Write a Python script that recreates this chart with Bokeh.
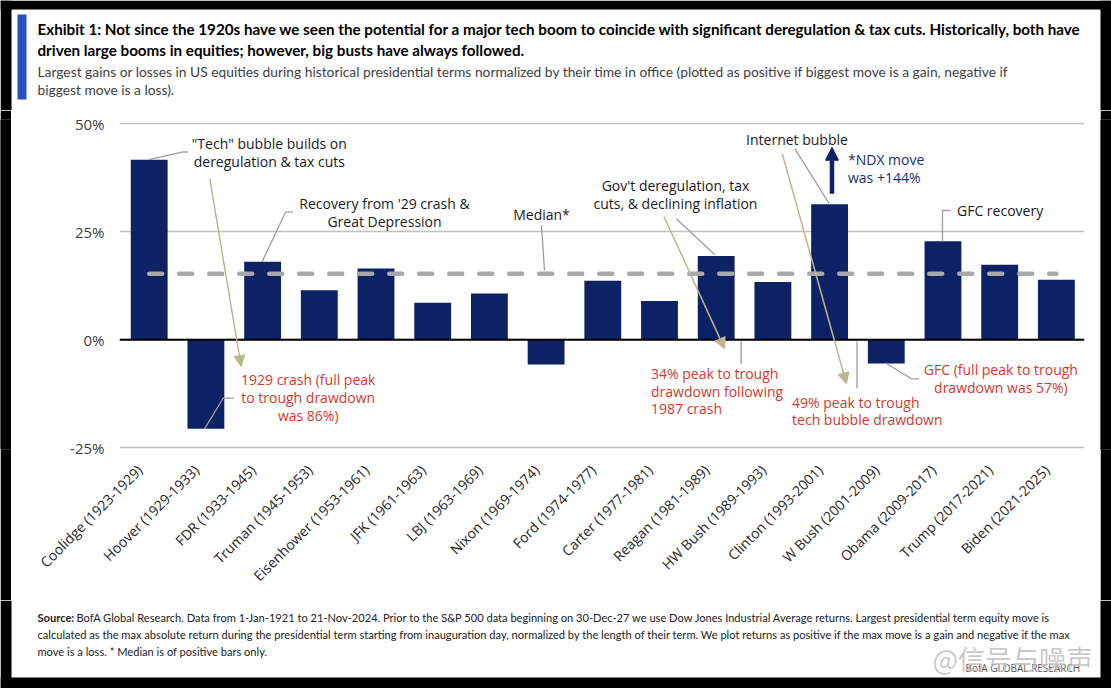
import numpy as np
from bokeh.plotting import figure
from bokeh.layouts import column, row
from bokeh.models import (ColumnDataSource, Range1d, FixedTicker, PrintfTickFormatter,
                          Span, Label, Arrow, NormalHead)
from bokeh.core.properties import value
from bokeh.embed import file_html
from bokeh.resources import INLINE

# ---------------- data ----------------
presidents = ["Coolidge (1923-1929)", "Hoover (1929-1933)", "FDR (1933-1945)", "Truman (1945-1953)",
              "Eisenhower (1953-1961)", "JFK (1961-1963)", "LBJ (1963-1969)", "Nixon (1969-1974)",
              "Ford (1974-1977)", "Carter (1977-1981)", "Reagan (1981-1989)", "HW Bush (1989-1993)",
              "Clinton (1993-2001)", "W Bush (2001-2009)", "Obama (2009-2017)", "Trump (2017-2021)",
              "Biden (2021-2025)"]
moves = [41.7, -20.6, 18.1, 11.5, 16.5, 8.6, 10.7, -5.7, 13.7, 9.0, 19.4, 13.4, 31.4, -5.5, 22.8, 17.4, 13.9]
median_positive = 15.3
y_ticks = [-25, 0, 25, 50]

NAVY = "#0c2264"
GRAY = "#9e9e9e"
TAN = "#bdb78f"
RED = "#d13a2f"
TXT = "#1a1a1a"
FONT = "Open Sans"
NARROW = "Lato"

PAGE_W, PAGE_H = 1111, 688
TOP_H, MID_H = 110, 490
BOT_H = PAGE_H - TOP_H - MID_H
EDGE = 11


def plain_fig(w, h, x0, x1, y0, y1, bg="white"):
    f = figure(width=w, height=h, output_backend="svg", toolbar_location=None,
               x_range=Range1d(x0, x1), y_range=Range1d(y0, y1),
               x_axis_location=None, y_axis_location=None,
               min_border=0, min_border_left=0, min_border_right=0,
               min_border_top=0, min_border_bottom=0)
    f.grid.visible = False
    f.outline_line_color = None
    f.background_fill_color = bg
    f.border_fill_color = bg
    return f


# ---------------- top (title) panel, page pixel coordinates ----------------
top = plain_fig(PAGE_W, TOP_H, 0, PAGE_W, TOP_H, 0)
top.quad(left=[0, PAGE_W - EDGE, 0], right=[EDGE, PAGE_W, PAGE_W], top=[0, 0, 0],
         bottom=[TOP_H, TOP_H, 9], fill_color="black", line_color=None)
top.quad(left=[17], right=[26], top=[14], bottom=[99], fill_color="#2452c2", line_color=None)
top.text(x=[37, 37], y=[28.3, 49.5],
         text=["Exhibit 1: Not since the 1920s have we seen the potential for a major tech boom to coincide with significant deregulation & tax cuts.  Historically, both have",
               "driven large booms in equities; however, big busts have always followed."],
         text_align="left", text_baseline="middle", text_color="#000000",
         text_font=value("Lato"), text_font_style="bold", text_font_size="15.2px")
top.text(x=[37, 37], y=[71, 88.5],
         text=["Largest gains or losses in US equities during historical presidential terms normalized by their time in office (plotted as positive if biggest move is a gain, negative if",
               "biggest move is a loss)."],
         text_align="left", text_baseline="middle", text_color="#404040",
         text_font=value(NARROW), text_font_size="13.8px")

# ---------------- chart panel ----------------
CH_W = PAGE_W - 2 * EDGE
p = figure(width=CH_W, height=MID_H, output_backend="svg", toolbar_location=None,
           x_range=Range1d(-0.524, 16.496), y_range=Range1d(-25.39, 51.0),
           min_border_left=108, min_border_right=16, min_border_top=9, min_border_bottom=151)
p.outline_line_color = None
p.background_fill_color = "white"
p.border_fill_color = "white"

# page-pixel -> data helpers for annotation placement
def X(px):
    return (px - 148.7) / 56.7

def Y(py):
    return (339.3 - py) / 4.32

xs_pos = list(range(len(presidents)))
label_pos = [i - 0.17 for i in xs_pos]
p.xaxis.ticker = FixedTicker(ticks=label_pos)
p.xaxis.major_label_overrides = {lp: n for lp, n in zip(label_pos, presidents)}
p.xaxis.major_label_orientation = np.pi / 4
p.xaxis.major_label_text_font = FONT
p.xaxis.major_label_text_font_size = "14px"
p.xaxis.major_label_text_color = "#262626"
p.xaxis.major_label_standoff = 18
for ax in (p.xaxis, p.yaxis):
    ax.axis_line_color = None
    ax.major_tick_line_color = None
    ax.minor_tick_line_color = None
    ax.major_tick_out = 0
    ax.major_tick_in = 0
p.yaxis.ticker = FixedTicker(ticks=y_ticks)
p.yaxis.formatter = PrintfTickFormatter(format="%d%%")
p.yaxis.major_label_text_font = FONT
p.yaxis.major_label_text_font_size = "15px"
p.yaxis.major_label_text_color = "#404040"
p.yaxis.major_label_standoff = 15

p.xgrid.visible = False
p.ygrid.ticker = FixedTicker(ticks=y_ticks)
p.ygrid.grid_line_color = "#c0c0c0"
p.ygrid.grid_line_width = 1.5

src = ColumnDataSource(dict(x=xs_pos, v=moves))
p.vbar(x="x", top="v", bottom=0, width=0.65, source=src, fill_color=NAVY, line_color=None)

p.line(x=[xs_pos[0], xs_pos[-1]], y=[median_positive, median_positive], line_color="#a8a8a8",
       line_width=4.5, line_dash="13 17", line_cap="round")

p.add_layout(Span(location=0, dimension="width", line_color="black", line_width=2))


def txt(lines, x, y0, dy, color, size="14px", align="center", font=FONT, style="normal"):
    for i, s in enumerate(lines):
        p.add_layout(Label(x=X(x), y=Y(y0 + i * dy), text=s, text_align=align,
                           text_baseline="middle", text_color=color, text_font_size=size,
                           text_font=font, text_font_style=style))


leaders = [
    [(148.3, 159), (181.7, 151.5), (187.3, 151.5)],
    [(204, 428.3), (222.7, 397.7), (233.3, 397.7)],
    [(261.7, 261), (285, 211.7), (292.7, 211.7)],
    [(541, 225), (544, 270)],
    [(675.8, 218.3), (714.4, 254.3)],
    [(740.7, 341), (740.7, 363.3)],
    [(794.4, 148.3), (828.4, 202.7)],
    [(856.5, 341), (856.5, 388)],
    [(942, 240.7), (942, 210), (950.2, 210)],
    [(886.3, 363.3), (910.9, 378.3), (918.6, 378.3)],
]
p.multi_line(xs=[[X(a) for a, b in L] for L in leaders], ys=[[Y(b) for a, b in L] for L in leaders],
             line_color=GRAY, line_width=1.3)

for (x0, y0, x1, y1) in [(209.3, 178.3, 240.7, 366), (663.5, 216, 724.2, 348.3), (781.8, 153.3, 846, 383.3)]:
    p.add_layout(Arrow(end=NormalHead(size=11, fill_color=TAN, line_color=TAN),
                       x_start=X(x0), y_start=Y(y0), x_end=X(x1), y_end=Y(y1),
                       line_color=TAN, line_width=1.5))

p.add_layout(Arrow(end=NormalHead(size=13, fill_color=NAVY, line_color=NAVY),
                   x_start=X(831.5), y_start=Y(193.3), x_end=X(831.5), y_end=Y(146.7),
                   line_color=NAVY, line_width=4.5))

txt(['"Tech" bubble builds on', "deregulation & tax cuts"], 268.8, 142.7, 18.3, TXT)
txt(["Recovery from '29 crash &", "Great Depression"], 384, 203.3, 17.7, TXT)
txt(["Median*"], 541, 214, 0, TXT)
txt(["Gov't deregulation, tax", "cuts, & declining inflation"], 675, 185, 17.7, TXT)
txt(["Internet bubble"], 796.5, 139, 0, TXT)
txt(["GFC recovery"], 956.5, 210, 0, TXT, align="left")
txt(["*NDX move", "was +144%"], 847.5, 159, 17.7, "#1c2e6e", align="left")
txt(["1929 crash (full peak", "to trough drawdown", "was 86%)"], 307.7, 379.3, 17.9, RED)
txt(["34% peak to trough", "drawdown following", "1987 crash"], 650.5, 373.3, 17.5, RED, align="left")
txt(["49% peak to trough", "tech bubble drawdown"], 791.6, 401.7, 17.6, RED, align="left")
txt(["GFC (full peak to trough", "drawdown was 57%)"], 1000.4, 369, 17.7, RED)

left_edge = plain_fig(EDGE, MID_H, 0, 1, 0, 1, bg="black")
left_edge.quad(left=[0], right=[1], bottom=[0], top=[1], fill_color="black", line_color=None)
right_edge = plain_fig(EDGE, MID_H, 0, 1, 0, 1, bg="black")
right_edge.quad(left=[0], right=[1], bottom=[0], top=[1], fill_color="black", line_color=None)

# ---------------- bottom (footer) panel, page pixel coordinates ----------------
y_off = TOP_H + MID_H
bot = plain_fig(PAGE_W, BOT_H, 0, PAGE_W, PAGE_H, y_off)
bot.quad(left=[0, PAGE_W - EDGE, 0], right=[EDGE, PAGE_W, PAGE_W], top=[y_off, y_off, 677],
         bottom=[PAGE_H, PAGE_H, PAGE_H], fill_color="black", line_color=None)
bot.text(x=[37], y=[617], text=["Source:"], text_align="left", text_baseline="middle",
         text_color="#222222", text_font=value(NARROW), text_font_style="bold", text_font_size="11.1px")
bot.text(x=[76, 37, 37], y=[617, 634, 651],
         text=["BofA Global Research. Data from 1-Jan-1921 to 21-Nov-2024. Prior to the S&P 500 data beginning on 30-Dec-27 we use Dow Jones Industrial Average returns.  Largest presidential term equity move is",
               "calculated as the max absolute return during the presidential term starting from inauguration day, normalized by the length of their term. We plot returns as positive if the max move is a gain and negative if the max",
               "move is a loss. * Median is of positive bars only."],
         text_align="left", text_baseline="middle", text_color="#222222",
         text_font=value(NARROW), text_font_size="11.1px")
bot.text(x=[965], y=[667], text=["BofA GLOBAL RESEARCH"], text_align="left", text_baseline="middle",
         text_color="#555555", text_font=value(FONT), text_font_size="10px")
bot.text(x=[932], y=[658], text=["@信号与噪声"], text_align="left", text_baseline="middle",
         text_color="#c0c0c0", text_alpha=0.85, text_font=value("Noto Sans CJK SC"), text_font_size="27px")

layout = column(top, row(left_edge, p, right_edge, spacing=0), bot, spacing=0)

open("out.html", "w").write(file_html(layout, INLINE))
